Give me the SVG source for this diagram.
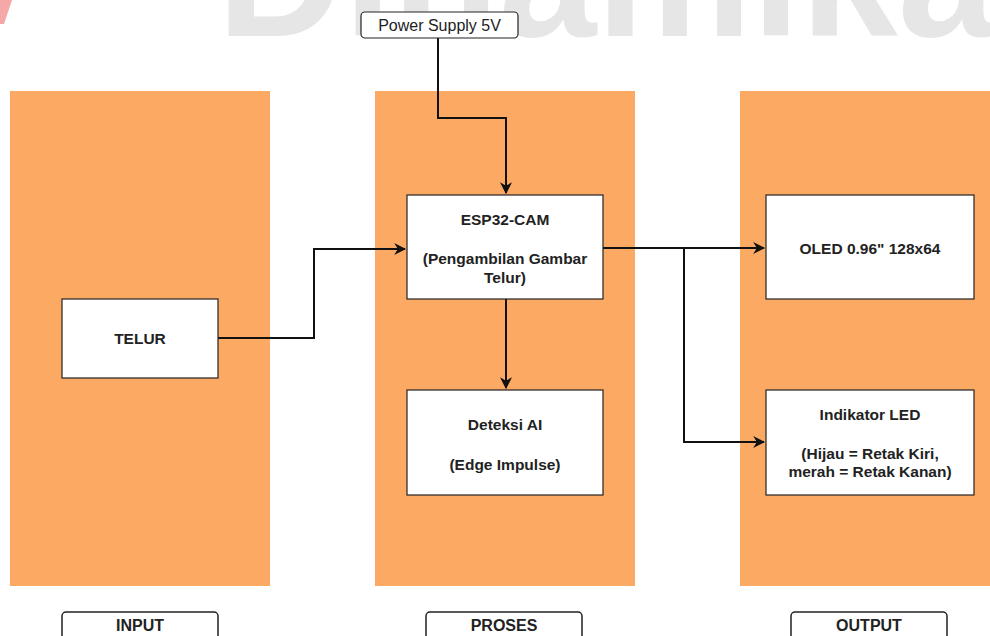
<svg xmlns="http://www.w3.org/2000/svg" width="990" height="636" viewBox="0 0 990 636">
<style>
.col{fill:#FCAA63}
.box{fill:#ffffff;stroke:#222;stroke-width:1.2}
.lbl{fill:#ffffff;stroke:#222;stroke-width:1.5}
.t{font-family:"Liberation Sans",Arial,sans-serif;font-size:15.5px;font-weight:bold;fill:#222;text-anchor:middle}
.tl{font-family:"Liberation Sans",Arial,sans-serif;font-size:16px;font-weight:bold;fill:#222;text-anchor:middle}
.tn{font-family:"Liberation Sans",Arial,sans-serif;font-size:16px;fill:#222;text-anchor:middle}
.c{fill:none;stroke:#111;stroke-width:2}
</style>
<defs>
<marker id="ar" viewBox="0 0 10 10" refX="9" refY="5" markerWidth="12" markerHeight="12" markerUnits="userSpaceOnUse" orient="auto">
<path d="M0,0 L10,5 L0,10 L3,5 z" fill="#111"/>
</marker>
</defs>
<rect width="990" height="636" fill="#ffffff"/>
<g id="watermark">
<text x="217" y="36" font-family="Liberation Sans,Arial,sans-serif" font-size="175" font-weight="bold" fill="#e6e6e6">Dinamika</text>
<polygon points="0,0 12,0 4,24 0,24" fill="#f4a8a8"/>
</g>
<g id="columns">
<rect class="col" x="10" y="91" width="260" height="495"/>
<rect class="col" x="375" y="91" width="260" height="495"/>
<rect class="col" x="740" y="91" width="250" height="495"/>
</g>
<g id="connectors">
<path class="c" d="M438,38 V118 H506 V193" marker-end="url(#ar)"/>
<path class="c" d="M218,338 H314 V249 H405" marker-end="url(#ar)"/>
<path class="c" d="M603,248 H764" marker-end="url(#ar)"/>
<path class="c" d="M684,248 V442 H764" marker-end="url(#ar)"/>
<path class="c" d="M506,299 V388" marker-end="url(#ar)"/>
</g>
<g id="power">
<rect class="box" x="361" y="12" width="157" height="26" rx="4"/>
<text class="tn" x="439.5" y="31">Power Supply 5V</text>
</g>
<g id="telur">
<rect class="box" x="62" y="299" width="156" height="79"/>
<text class="t" x="140" y="344">TELUR</text>
</g>
<g id="esp32">
<rect class="box" x="407" y="195" width="196" height="104"/>
<text class="t" x="505" y="225">ESP32-CAM</text>
<text class="t" x="505" y="264">(Pengambilan Gambar</text>
<text class="t" x="505" y="283">Telur)</text>
</g>
<g id="deteksi">
<rect class="box" x="407" y="390" width="196" height="105"/>
<text class="t" x="505" y="430">Deteksi AI</text>
<text class="t" x="505" y="470">(Edge Impulse)</text>
</g>
<g id="oled">
<rect class="box" x="766" y="195" width="208" height="104"/>
<text class="t" x="870" y="254">OLED 0.96" 128x64</text>
</g>
<g id="led">
<rect class="box" x="766" y="390" width="208" height="105"/>
<text class="t" x="870" y="420">Indikator LED</text>
<text class="t" x="870" y="459">(Hijau = Retak Kiri,</text>
<text class="t" x="870" y="477">merah = Retak Kanan)</text>
</g>
<g id="input">
<rect class="lbl" x="62" y="612" width="156" height="40" rx="4"/>
<text class="tl" x="140" y="631">INPUT</text>
</g>
<g id="proses">
<rect class="lbl" x="426" y="612" width="156" height="40" rx="4"/>
<text class="tl" x="504" y="631">PROSES</text>
</g>
<g id="output">
<rect class="lbl" x="791" y="612" width="156" height="40" rx="4"/>
<text class="tl" x="869" y="631">OUTPUT</text>
</g>
</svg>
